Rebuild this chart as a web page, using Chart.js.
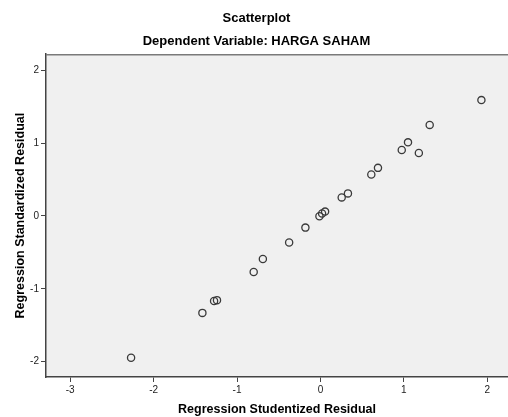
<!DOCTYPE html>
<html>
<head>
<meta charset="utf-8">
<script src="https://cdn.jsdelivr.net/npm/chart.js@4"></script>
<style>
  html, body { margin: 0; padding: 0; background: #ffffff; overflow: hidden; }
  #outer { width: 508px; height: 417px; overflow: hidden; position: relative; }
  #wrap { width: 513px; height: 417px; position: absolute; left: 0; top: 0; }
</style>
</head>
<body>
<div id="outer"><div id="wrap"><canvas id="c"></canvas></div></div>
<script>
const chartTitle = "Scatterplot";
const chartSubtitle = "Dependent Variable: HARGA SAHAM";
const xAxisTitle = "Regression Studentized Residual";
const yAxisTitle = "Regression Standardized Residual";

const studentizedResidual = [1.93, 1.31, 1.05, 0.975, 1.18, 0.69, 0.61, 0.33, 0.255, 0.056, 0.02, -0.012, -0.18, -0.375, -0.69, -0.80, -1.24, -1.275, -1.415, -2.27];
const standardizedResidual = [1.59, 1.25, 1.01, 0.905, 0.865, 0.66, 0.57, 0.31, 0.255, 0.06, 0.033, -0.004, -0.16, -0.365, -0.59, -0.77, -1.155, -1.167, -1.33, -1.945];

const xTicks = [-3, -2, -1, 0, 1, 2];
const yTicks = [-2, -1, 0, 1, 2];

const points = studentizedResidual.map((x, i) => ({ x: x, y: standardizedResidual[i] }));

const FONT = "'Liberation Sans', Arial, sans-serif";

const frame = {
  id: 'frame',
  beforeDraw(chart) {
    const a = chart.chartArea, ctx = chart.ctx;
    ctx.save();
    ctx.fillStyle = '#f0f0f0';
    ctx.fillRect(a.left, a.top, a.right - a.left, a.bottom - a.top);
    ctx.restore();
  },
  afterDraw(chart) {
    const a = chart.chartArea, ctx = chart.ctx;
    ctx.save();
    ctx.strokeStyle = '#7a7a7a';
    ctx.lineWidth = 1.5;
    ctx.beginPath();
    ctx.moveTo(a.left, a.top + 0.5);
    ctx.lineTo(a.right, a.top + 0.5);
    ctx.stroke();
    ctx.restore();
  }
};

new Chart(document.getElementById('c'), {
  type: 'scatter',
  data: {
    datasets: [{
      data: points,
      pointRadius: 3.6,
      pointHoverRadius: 3.6,
      pointBorderWidth: 1.3,
      borderColor: '#3a3a3a',
      backgroundColor: 'rgba(0,0,0,0)'
    }]
  },
  plugins: [frame],
  options: {
    responsive: true,
    maintainAspectRatio: false,
    animation: false,
    layout: { padding: 0 },
    plugins: {
      legend: { display: false },
      tooltip: { enabled: false },
      title: {
        display: true,
        text: chartTitle,
        color: '#000',
        font: { family: FONT, size: 13, weight: 'bold', lineHeight: 1.2 },
        padding: { top: 10.5, bottom: 7.5 }
      },
      subtitle: {
        display: true,
        text: chartSubtitle,
        color: '#000',
        font: { family: FONT, size: 13, weight: 'bold', lineHeight: 1.2 },
        padding: { top: 0, bottom: 5 }
      }
    },
    scales: {
      x: {
        type: 'linear',
        min: -3.29,
        max: 2.25,
        afterBuildTicks(scale) { scale.ticks = xTicks.map(v => ({ value: v })); },
        afterFit(scale) { scale.height = 40; },
        grid: { drawOnChartArea: false, drawTicks: true, tickLength: 5, color: '#444', lineWidth: 1 },
        border: { display: true, color: '#444', width: 1.5 },
        ticks: { color: '#222', font: { family: FONT, size: 10 }, padding: 2 },
        title: {
          display: true, text: xAxisTitle, color: '#000',
          font: { family: FONT, size: 12.5, weight: 'bold', lineHeight: 1.2 },
          padding: { top: 0, bottom: 0 }
        }
      },
      y: {
        type: 'linear',
        min: -2.21,
        max: 2.22,
        afterBuildTicks(scale) { scale.ticks = yTicks.map(v => ({ value: v })); },
        afterFit(scale) { scale.width = 46; },
        grid: { drawOnChartArea: false, drawTicks: true, tickLength: 5, color: '#444', lineWidth: 1 },
        border: { display: true, color: '#444', width: 1.5 },
        ticks: { color: '#222', font: { family: FONT, size: 10 }, padding: 2 },
        title: {
          display: true, text: yAxisTitle, color: '#000',
          font: { family: FONT, size: 12.5, weight: 'bold', lineHeight: 1.2 },
          padding: { top: 13, bottom: 0 }
        }
      }
    }
  }
});
</script>
</body>
</html>
